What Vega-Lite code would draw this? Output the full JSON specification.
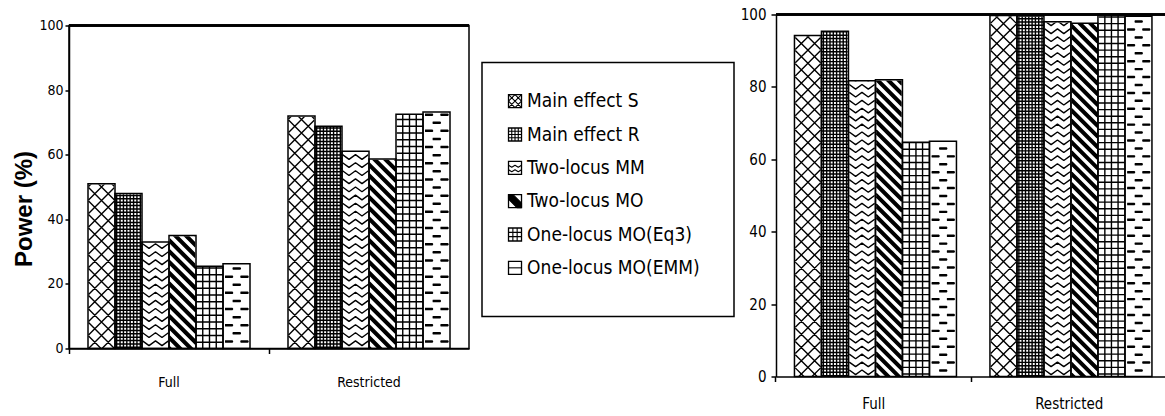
{
  "$schema": "https://vega.github.io/schema/vega-lite/v6.json",
  "background": "white",
  "padding": {"left": 12, "top": 7.5, "right": 0, "bottom": 0},
  "config": {
    "view": {"stroke": "black", "strokeWidth": 1.5},
    "axis": {
      "domainColor": "black", "domainWidth": 1.5,
      "tickColor": "black", "tickWidth": 1.5,
      "labelColor": "black", "labelFont": "DejaVu Sans Condensed, Liberation Sans Narrow, sans-serif",
      "titleColor": "black", "grid": false, "zindex": 1
    }
  },
  "datasets": {
    "left": [
      {"group": "Full", "series": "Main effect S", "power": 51},
      {"group": "Full", "series": "Main effect R", "power": 48},
      {"group": "Full", "series": "Two-locus MM", "power": 33},
      {"group": "Full", "series": "Two-locus MO", "power": 35},
      {"group": "Full", "series": "One-locus MO(Eq3)", "power": 25.5},
      {"group": "Full", "series": "One-locus MO(EMM)", "power": 26.2},
      {"group": "Restricted", "series": "Main effect S", "power": 72},
      {"group": "Restricted", "series": "Main effect R", "power": 68.8},
      {"group": "Restricted", "series": "Two-locus MM", "power": 61.1},
      {"group": "Restricted", "series": "Two-locus MO", "power": 58.7},
      {"group": "Restricted", "series": "One-locus MO(Eq3)", "power": 72.5},
      {"group": "Restricted", "series": "One-locus MO(EMM)", "power": 73.2}
    ],
    "right": [
      {"group": "Full", "series": "Main effect S", "power": 94.2},
      {"group": "Full", "series": "Main effect R", "power": 95.4},
      {"group": "Full", "series": "Two-locus MM", "power": 81.7},
      {"group": "Full", "series": "Two-locus MO", "power": 82},
      {"group": "Full", "series": "One-locus MO(Eq3)", "power": 64.7},
      {"group": "Full", "series": "One-locus MO(EMM)", "power": 65},
      {"group": "Restricted", "series": "Main effect S", "power": 99.7},
      {"group": "Restricted", "series": "Main effect R", "power": 99.6},
      {"group": "Restricted", "series": "Two-locus MM", "power": 98},
      {"group": "Restricted", "series": "Two-locus MO", "power": 97.6},
      {"group": "Restricted", "series": "One-locus MO(Eq3)", "power": 100},
      {"group": "Restricted", "series": "One-locus MO(EMM)", "power": 99.5}
    ],
    "legend": [
      {"series": "Main effect S"},
      {"series": "Main effect R"},
      {"series": "Two-locus MM"},
      {"series": "Two-locus MO"},
      {"series": "One-locus MO(Eq3)"},
      {"series": "One-locus MO(EMM)"}
    ]
  },
  "resolve": {"scale": {"shape": "shared", "fill": "shared"}},
  "spacing": 5,
  "hconcat": [
    {
      "spacing": 10,
      "hconcat": [
        {
          "spacing": 0,
          "vconcat": [
            {"width": 1, "height": 2.5, "view": {"stroke": null}, "data": {"values": []}, "mark": "text"},
            {
              "width": 400,
              "height": 323,
              "data": {"name": "left"},
              "layer": [
                {
                  "encoding": {
                    "x": {"field": "group", "type": "nominal", "sort": ["Full", "Restricted"],
                          "scale": {"paddingInner": 0.19, "paddingOuter": 0.095},
                          "axis": {"title": null, "labelAngle": 0, "labelFontSize": 14, "labelPadding": 22, "tickSize": 5, "bandPosition": -0.117}},
                    "xOffset": {"field": "series", "type": "nominal",
                                "sort": ["Main effect S", "Main effect R", "Two-locus MM", "Two-locus MO", "One-locus MO(Eq3)", "One-locus MO(EMM)"]}
                  },
                  "layer": [
                    {
                      "mark": {"type": "point", "filled": true, "clip": true, "size": 729, "stroke": "black", "strokeWidth": 1.4, "strokeJoin": "bevel", "strokeCap": "butt", "opacity": 1},
                      "encoding": {
                        "y": {"datum": 50, "type": "quantitative", "scale": {"domain": [0, 100], "nice": false},
                              "axis": {"title": "Power (%)", "values": [0, 20, 40, 60, 80, 100], "tickSize": 4, "labelPadding": 2, "labelFontSize": 14,
                                       "titleFont": "Liberation Sans", "titleFontSize": 24, "titleFontWeight": "bold", "titleY": 183, "titlePadding": 2}},
                        "shape": {"field": "series", "type": "nominal", "legend": null,
                          "scale": {
                            "domain": ["Main effect S", "Main effect R", "Two-locus MM", "Two-locus MO", "One-locus MO(Eq3)", "One-locus MO(EMM)"],
                            "range": [
                              "M-.96 -15.96l1.92 1.92m-1.92 -.92l1.92 1.92m-1.92 -.92l1.92 1.92m-1.92 -.92l1.92 1.92m-1.92 -.92l1.92 1.92m-1.92 -.92l1.92 1.92m-1.92 -.92l1.92 1.92m-1.92 -.92l1.92 1.92m-1.92 -.92l1.92 1.92m-1.92 -.92l1.92 1.92m-1.92 -.92l1.92 1.92m-1.92 -.92l1.92 1.92m-1.92 -.92l1.92 1.92m-1.92 -.92l1.92 1.92m-1.92 -.92l1.92 1.92m-1.92 -.92l1.92 1.92m-1.92 -.92l1.92 1.92m-1.92 -.92l1.92 1.92m-1.92 -.92l1.92 1.92m-1.92 -.92l1.92 1.92m-1.92 -.92l1.92 1.92m-1.92 -.92l1.92 1.92m-1.92 -.92l1.92 1.92m-1.92 -.92l1.92 1.92m-1.92 -.92l1.92 1.92m-1.92 -.92l1.92 1.92m-1.92 -.92l1.92 1.92m-1.92 -.92l1.92 1.92m-1.92 -.92l1.92 1.92m-1.92 -.92l1.92 1.92m-1.92 -.92l1.92 1.92m-1.92 -.92M-.96 -14.04l1.92 -1.92m-1.92 2.92l1.92 -1.92m-1.92 2.92l1.92 -1.92m-1.92 2.92l1.92 -1.92m-1.92 2.92l1.92 -1.92m-1.92 2.92l1.92 -1.92m-1.92 2.92l1.92 -1.92m-1.92 2.92l1.92 -1.92m-1.92 2.92l1.92 -1.92m-1.92 2.92l1.92 -1.92m-1.92 2.92l1.92 -1.92m-1.92 2.92l1.92 -1.92m-1.92 2.92l1.92 -1.92m-1.92 2.92l1.92 -1.92m-1.92 2.92l1.92 -1.92m-1.92 2.92l1.92 -1.92m-1.92 2.92l1.92 -1.92m-1.92 2.92l1.92 -1.92m-1.92 2.92l1.92 -1.92m-1.92 2.92l1.92 -1.92m-1.92 2.92l1.92 -1.92m-1.92 2.92l1.92 -1.92m-1.92 2.92l1.92 -1.92m-1.92 2.92l1.92 -1.92m-1.92 2.92l1.92 -1.92m-1.92 2.92l1.92 -1.92m-1.92 2.92l1.92 -1.92m-1.92 2.92l1.92 -1.92m-1.92 2.92l1.92 -1.92m-1.92 2.92l1.92 -1.92m-1.92 2.92l1.92 -1.92m-1.92 2.92",
                              "M-.875 -14V14M-.625 -14V14M-.375 -14V14M-.125 -14V14M.125 -14V14M.375 -14V14M.625 -14V14M.875 -14V14M-1 -13.875h2m-2 .25h2m-2 .25h2m-2 .25h2m-2 .25h2m-2 .25h2m-2 .25h2m-2 .25h2m-2 .25h2m-2 .25h2m-2 .25h2m-2 .25h2m-2 .25h2m-2 .25h2m-2 .25h2m-2 .25h2m-2 .25h2m-2 .25h2m-2 .25h2m-2 .25h2m-2 .25h2m-2 .25h2m-2 .25h2m-2 .25h2m-2 .25h2m-2 .25h2m-2 .25h2m-2 .25h2m-2 .25h2m-2 .25h2m-2 .25h2m-2 .25h2m-2 .25h2m-2 .25h2m-2 .25h2m-2 .25h2m-2 .25h2m-2 .25h2m-2 .25h2m-2 .25h2m-2 .25h2m-2 .25h2m-2 .25h2m-2 .25h2m-2 .25h2m-2 .25h2m-2 .25h2m-2 .25h2m-2 .25h2m-2 .25h2m-2 .25h2m-2 .25h2m-2 .25h2m-2 .25h2m-2 .25h2m-2 .25h2m-2 .25h2m-2 .25h2m-2 .25h2m-2 .25h2m-2 .25h2m-2 .25h2m-2 .25h2m-2 .25h2m-2 .25h2m-2 .25h2m-2 .25h2m-2 .25h2m-2 .25h2m-2 .25h2m-2 .25h2m-2 .25h2m-2 .25h2m-2 .25h2m-2 .25h2m-2 .25h2m-2 .25h2m-2 .25h2m-2 .25h2m-2 .25h2m-2 .25h2m-2 .25h2m-2 .25h2m-2 .25h2m-2 .25h2m-2 .25h2m-2 .25h2m-2 .25h2m-2 .25h2m-2 .25h2m-2 .25h2m-2 .25h2m-2 .25h2m-2 .25h2m-2 .25h2m-2 .25h2m-2 .25h2m-2 .25h2m-2 .25h2m-2 .25h2m-2 .25h2m-2 .25h2m-2 .25h2m-2 .25h2m-2 .25h2m-2 .25h2m-2 .25h2m-2 .25h2m-2 .25h2m-2 .25h2m-2 .25h2m-2 .25h2m-2 .25h2m-2 .25h2m-2 .25h2m-2 .25h2m-2 .25h2m-2 .25h2m-2 .25h2m-2 .25h2m-2 .25h2m-2 .25h2m-2 .25h2m-2 .25h2m-2 .25h2m-2 .25h2m-2 .25h2m-2 .25h2m-2 .25h2m-2 .25h2m-2 .25h2m-2 .25h2m-2 .25h2m-2 .25",
                              "M-.96 -13.8l.48 .35 .48 -.35 .48 .35 .48 -.35m-1.92 .6l.48 .35 .48 -.35 .48 .35 .48 -.35m-1.92 .6l.48 .35 .48 -.35 .48 .35 .48 -.35m-1.92 .6l.48 .35 .48 -.35 .48 .35 .48 -.35m-1.92 .6l.48 .35 .48 -.35 .48 .35 .48 -.35m-1.92 .6l.48 .35 .48 -.35 .48 .35 .48 -.35m-1.92 .6l.48 .35 .48 -.35 .48 .35 .48 -.35m-1.92 .6l.48 .35 .48 -.35 .48 .35 .48 -.35m-1.92 .6l.48 .35 .48 -.35 .48 .35 .48 -.35m-1.92 .6l.48 .35 .48 -.35 .48 .35 .48 -.35m-1.92 .6l.48 .35 .48 -.35 .48 .35 .48 -.35m-1.92 .6l.48 .35 .48 -.35 .48 .35 .48 -.35m-1.92 .6l.48 .35 .48 -.35 .48 .35 .48 -.35m-1.92 .6l.48 .35 .48 -.35 .48 .35 .48 -.35m-1.92 .6l.48 .35 .48 -.35 .48 .35 .48 -.35m-1.92 .6l.48 .35 .48 -.35 .48 .35 .48 -.35m-1.92 .6l.48 .35 .48 -.35 .48 .35 .48 -.35m-1.92 .6l.48 .35 .48 -.35 .48 .35 .48 -.35m-1.92 .6l.48 .35 .48 -.35 .48 .35 .48 -.35m-1.92 .6l.48 .35 .48 -.35 .48 .35 .48 -.35m-1.92 .6l.48 .35 .48 -.35 .48 .35 .48 -.35m-1.92 .6l.48 .35 .48 -.35 .48 .35 .48 -.35m-1.92 .6l.48 .35 .48 -.35 .48 .35 .48 -.35m-1.92 .6l.48 .35 .48 -.35 .48 .35 .48 -.35m-1.92 .6l.48 .35 .48 -.35 .48 .35 .48 -.35m-1.92 .6l.48 .35 .48 -.35 .48 .35 .48 -.35m-1.92 .6l.48 .35 .48 -.35 .48 .35 .48 -.35m-1.92 .6l.48 .35 .48 -.35 .48 .35 .48 -.35m-1.92 .6l.48 .35 .48 -.35 .48 .35 .48 -.35m-1.92 .6l.48 .35 .48 -.35 .48 .35 .48 -.35m-1.92 .6l.48 .35 .48 -.35 .48 .35 .48 -.35m-1.92 .6l.48 .35 .48 -.35 .48 .35 .48 -.35m-1.92 .6l.48 .35 .48 -.35 .48 .35 .48 -.35m-1.92 .6l.48 .35 .48 -.35 .48 .35 .48 -.35m-1.92 .6l.48 .35 .48 -.35 .48 .35 .48 -.35m-1.92 .6l.48 .35 .48 -.35 .48 .35 .48 -.35m-1.92 .6l.48 .35 .48 -.35 .48 .35 .48 -.35m-1.92 .6l.48 .35 .48 -.35 .48 .35 .48 -.35m-1.92 .6l.48 .35 .48 -.35 .48 .35 .48 -.35m-1.92 .6l.48 .35 .48 -.35 .48 .35 .48 -.35m-1.92 .6l.48 .35 .48 -.35 .48 .35 .48 -.35m-1.92 .6l.48 .35 .48 -.35 .48 .35 .48 -.35m-1.92 .6l.48 .35 .48 -.35 .48 .35 .48 -.35m-1.92 .6l.48 .35 .48 -.35 .48 .35 .48 -.35m-1.92 .6l.48 .35 .48 -.35 .48 .35 .48 -.35m-1.92 .6l.48 .35 .48 -.35 .48 .35 .48 -.35m-1.92 .6l.48 .35 .48 -.35 .48 .35 .48 -.35m-1.92 .6",
                              "M-.96 -16.16l1.92 1.92v.28l-1.92 -1.92m0 .52l1.92 1.92v.28l-1.92 -1.92m0 .52l1.92 1.92v.28l-1.92 -1.92m0 .52l1.92 1.92v.28l-1.92 -1.92m0 .52l1.92 1.92v.28l-1.92 -1.92m0 .52l1.92 1.92v.28l-1.92 -1.92m0 .52l1.92 1.92v.28l-1.92 -1.92m0 .52l1.92 1.92v.28l-1.92 -1.92m0 .52l1.92 1.92v.28l-1.92 -1.92m0 .52l1.92 1.92v.28l-1.92 -1.92m0 .52l1.92 1.92v.28l-1.92 -1.92m0 .52l1.92 1.92v.28l-1.92 -1.92m0 .52l1.92 1.92v.28l-1.92 -1.92m0 .52l1.92 1.92v.28l-1.92 -1.92m0 .52l1.92 1.92v.28l-1.92 -1.92m0 .52l1.92 1.92v.28l-1.92 -1.92m0 .52l1.92 1.92v.28l-1.92 -1.92m0 .52l1.92 1.92v.28l-1.92 -1.92m0 .52l1.92 1.92v.28l-1.92 -1.92m0 .52l1.92 1.92v.28l-1.92 -1.92m0 .52l1.92 1.92v.28l-1.92 -1.92m0 .52l1.92 1.92v.28l-1.92 -1.92m0 .52l1.92 1.92v.28l-1.92 -1.92m0 .52l1.92 1.92v.28l-1.92 -1.92m0 .52l1.92 1.92v.28l-1.92 -1.92m0 .52l1.92 1.92v.28l-1.92 -1.92m0 .52l1.92 1.92v.28l-1.92 -1.92m0 .52l1.92 1.92v.28l-1.92 -1.92m0 .52l1.92 1.92v.28l-1.92 -1.92m0 .52l1.92 1.92v.28l-1.92 -1.92m0 .52l1.92 1.92v.28l-1.92 -1.92m0 .52l1.92 1.92v.28l-1.92 -1.92m0 .52l1.92 1.92v.28l-1.92 -1.92m0 .52l1.92 1.92v.28l-1.92 -1.92m0 .52l1.92 1.92v.28l-1.92 -1.92m0 .52l1.92 1.92v.28l-1.92 -1.92m0 .52l1.92 1.92v.28l-1.92 -1.92m0 .52l1.92 1.92v.28l-1.92 -1.92m0 .52l1.92 1.92v.28l-1.92 -1.92m0 .52",
                              "M-.5 -14V14M0 -14V14M.5 -14V14M-1 -13.5h2m-2 .5h2m-2 .5h2m-2 .5h2m-2 .5h2m-2 .5h2m-2 .5h2m-2 .5h2m-2 .5h2m-2 .5h2m-2 .5h2m-2 .5h2m-2 .5h2m-2 .5h2m-2 .5h2m-2 .5h2m-2 .5h2m-2 .5h2m-2 .5h2m-2 .5h2m-2 .5h2m-2 .5h2m-2 .5h2m-2 .5h2m-2 .5h2m-2 .5h2m-2 .5h2m-2 .5h2m-2 .5h2m-2 .5h2m-2 .5h2m-2 .5h2m-2 .5h2m-2 .5h2m-2 .5h2m-2 .5h2m-2 .5h2m-2 .5h2m-2 .5h2m-2 .5h2m-2 .5h2m-2 .5h2m-2 .5h2m-2 .5h2m-2 .5h2m-2 .5h2m-2 .5h2m-2 .5h2m-2 .5h2m-2 .5h2m-2 .5h2m-2 .5h2m-2 .5h2m-2 .5h2m-2 .5h2m-2 .5h2m-2 .5h2m-2 .5",
                              "M-.85 -13.8h.55v.08h-.55m1.15 -.08h.55v.08h-.55m-.58 .52h.56v.08h-.56m-.57 .52h.55v.08h-.55m1.15 -.08h.55v.08h-.55m-.58 .52h.56v.08h-.56m-.57 .52h.55v.08h-.55m1.15 -.08h.55v.08h-.55m-.58 .52h.56v.08h-.56m-.57 .52h.55v.08h-.55m1.15 -.08h.55v.08h-.55m-.58 .52h.56v.08h-.56m-.57 .52h.55v.08h-.55m1.15 -.08h.55v.08h-.55m-.58 .52h.56v.08h-.56m-.57 .52h.55v.08h-.55m1.15 -.08h.55v.08h-.55m-.58 .52h.56v.08h-.56m-.57 .52h.55v.08h-.55m1.15 -.08h.55v.08h-.55m-.58 .52h.56v.08h-.56m-.57 .52h.55v.08h-.55m1.15 -.08h.55v.08h-.55m-.58 .52h.56v.08h-.56m-.57 .52h.55v.08h-.55m1.15 -.08h.55v.08h-.55m-.58 .52h.56v.08h-.56m-.57 .52h.55v.08h-.55m1.15 -.08h.55v.08h-.55m-.58 .52h.56v.08h-.56m-.57 .52h.55v.08h-.55m1.15 -.08h.55v.08h-.55m-.58 .52h.56v.08h-.56m-.57 .52h.55v.08h-.55m1.15 -.08h.55v.08h-.55m-.58 .52h.56v.08h-.56m-.57 .52h.55v.08h-.55m1.15 -.08h.55v.08h-.55m-.58 .52h.56v.08h-.56m-.57 .52h.55v.08h-.55m1.15 -.08h.55v.08h-.55m-.58 .52h.56v.08h-.56m-.57 .52h.55v.08h-.55m1.15 -.08h.55v.08h-.55m-.58 .52h.56v.08h-.56m-.57 .52h.55v.08h-.55m1.15 -.08h.55v.08h-.55m-.58 .52h.56v.08h-.56m-.57 .52h.55v.08h-.55m1.15 -.08h.55v.08h-.55m-.58 .52h.56v.08h-.56m-.57 .52h.55v.08h-.55m1.15 -.08h.55v.08h-.55m-.58 .52h.56v.08h-.56m-.57 .52h.55v.08h-.55m1.15 -.08h.55v.08h-.55m-.58 .52h.56v.08h-.56m-.57 .52h.55v.08h-.55m1.15 -.08h.55v.08h-.55m-.58 .52h.56v.08h-.56m-.57 .52h.55v.08h-.55m1.15 -.08h.55v.08h-.55m-.58 .52h.56v.08h-.56m-.57 .52h.55v.08h-.55m1.15 -.08h.55v.08h-.55m-.58 .52h.56v.08h-.56m-.57 .52h.55v.08h-.55m1.15 -.08h.55v.08h-.55m-.58 .52h.56v.08h-.56m-.57 .52"
                            ]
                          }
                        },
                        "fill": {"field": "series", "type": "nominal", "legend": null,
                          "scale": {
                            "domain": ["Main effect S", "Main effect R", "Two-locus MM", "Two-locus MO", "One-locus MO(Eq3)", "One-locus MO(EMM)"],
                            "range": ["transparent", "transparent", "transparent", "black", "transparent", "black"]
                          }
                        }
                      }
                    },
                    {
                      "mark": {"type": "bar", "fill": "white", "stroke": "white", "strokeWidth": 1.5},
                      "encoding": {
                        "y": {"field": "power", "type": "quantitative", "scale": {"domain": [0, 100], "nice": false},
                              "axis": {"title": "Power (%)", "values": [0, 20, 40, 60, 80, 100], "tickSize": 4, "labelPadding": 2, "labelFontSize": 14,
                                       "titleFont": "Liberation Sans", "titleFontSize": 24, "titleFontWeight": "bold", "titleY": 183, "titlePadding": 2}},
                        "y2": {"datum": 100}
                      }
                    },
                    {
                      "mark": {"type": "bar", "fill": "transparent", "stroke": "black", "strokeWidth": 1.5},
                      "encoding": {
                        "y": {"field": "power", "type": "quantitative", "scale": {"domain": [0, 100], "nice": false},
                              "axis": {"title": "Power (%)", "values": [0, 20, 40, 60, 80, 100], "tickSize": 4, "labelPadding": 2, "labelFontSize": 14,
                                       "titleFont": "Liberation Sans", "titleFontSize": 24, "titleFontWeight": "bold", "titleY": 183, "titlePadding": 2}}
                      }
                    }
                  ]
                },
                {
                  "mark": {"type": "rule", "color": "black", "strokeWidth": 1.5},
                  "encoding": {
                    "y": {"datum": 100, "type": "quantitative", "scale": {"domain": [0, 100], "nice": false},
                          "axis": {"title": "Power (%)", "values": [0, 20, 40, 60, 80, 100], "tickSize": 4, "labelPadding": 2, "labelFontSize": 14,
                                   "titleFont": "Liberation Sans", "titleFontSize": 24, "titleFontWeight": "bold", "titleY": 183, "titlePadding": 2}}
                  }
                }
              ]
            }
          ]
        },
        {
          "spacing": 0,
          "vconcat": [
            {"width": 1, "height": 47, "view": {"stroke": null}, "data": {"values": []}, "mark": "text"},
            {
              "width": 252,
              "height": 254,
              "data": {"name": "legend"},
              "encoding": {
                "y": {"field": "series", "type": "nominal", "sort": null, "scale": {"type": "point", "range": [22, 222]}, "axis": null}
              },
              "layer": [
                {
                  "mark": {"type": "point", "filled": true, "size": 169, "stroke": "black", "strokeWidth": 1.1, "strokeJoin": "bevel", "opacity": 1},
                  "encoding": {
                    "x": {"datum": 0.131, "type": "quantitative", "scale": {"domain": [0, 1]}, "axis": null},
                    "shape": {
                      "condition": [
                        {"test": "datum.series === 'Main effect S'", "value": "M-1 -1L1 1M-1 1L1 -1M-1 0L0 -1L1 0L0 1Z"},
                        {"test": "datum.series === 'Main effect R'", "value": "M-.5 -1V1M0 -1V1M.5 -1V1M-1 -.5H1M-1 0H1M-1 .5H1"},
                        {"test": "datum.series === 'Two-locus MM'", "value": "M-1 -.4l.5 .3 .5 -.3 .5 .3 .5 -.3M-1 .3l.5 .3 .5 -.3 .5 .3 .5 -.3"},
                        {"test": "datum.series === 'Two-locus MO'", "value": "M-1 -1h.7l1.3 1.3v.7h-.7l-1.3 -1.3z"},
                        {"test": "datum.series === 'One-locus MO(Eq3)'", "value": "M-.33 -1V1M.33 -1V1M-1 -.33H1M-1 .33H1"}
                      ],
                      "value": "M-1 0H1"
                    },
                    "fill": {"field": "series", "type": "nominal", "legend": null}
                  }
                },
                {
                  "mark": {"type": "point", "shape": "square", "size": 169, "stroke": "black", "strokeWidth": 1.3, "fill": "transparent", "opacity": 1},
                  "encoding": {"x": {"datum": 0.131, "type": "quantitative", "axis": null}}
                },
                {
                  "mark": {"type": "text", "align": "left", "baseline": "middle", "fontSize": 19, "color": "black",
                           "font": "DejaVu Sans Condensed, Liberation Sans Narrow, sans-serif"},
                  "encoding": {
                    "x": {"datum": 0.179, "type": "quantitative", "axis": null},
                    "text": {"field": "series"}
                  }
                }
              ]
            }
          ]
        }
      ]
    },
    {
      "width": 391,
      "height": 362,
      "view": {"stroke": null},
      "data": {"name": "right"},
      "layer": [
        {
          "encoding": {
            "x": {"field": "group", "type": "nominal", "sort": ["Full", "Restricted"],
                  "scale": {"paddingInner": 0.1888, "paddingOuter": 0.0944},
                  "axis": {"title": null, "labelAngle": 0, "labelFontSize": 15, "labelPadding": 15, "tickSize": 5, "bandPosition": -0.117}},
            "xOffset": {"field": "series", "type": "nominal",
                        "sort": ["Main effect S", "Main effect R", "Two-locus MM", "Two-locus MO", "One-locus MO(Eq3)", "One-locus MO(EMM)"]}
          },
          "layer": [
            {
              "mark": {"type": "point", "filled": true, "clip": true, "size": 699, "stroke": "black", "strokeWidth": 1.4, "strokeJoin": "bevel", "strokeCap": "butt", "opacity": 1},
              "encoding": {
                "y": {"datum": 50, "type": "quantitative", "scale": {"domain": [0, 100], "nice": false},
                      "axis": {"title": null, "values": [0, 20, 40, 60, 80, 100], "tickSize": 5, "labelPadding": 5, "labelFontSize": 15}},
                "shape": {"field": "series", "type": "nominal", "legend": null},
                "fill": {"field": "series", "type": "nominal", "legend": null}
              }
            },
            {
              "mark": {"type": "bar", "fill": "white", "stroke": "white", "strokeWidth": 1.5},
              "encoding": {
                "y": {"field": "power", "type": "quantitative", "scale": {"domain": [0, 100], "nice": false},
                      "axis": {"title": null, "values": [0, 20, 40, 60, 80, 100], "tickSize": 5, "labelPadding": 5, "labelFontSize": 15}},
                "y2": {"datum": 100}
              }
            },
            {
              "mark": {"type": "bar", "fill": "transparent", "stroke": "black", "strokeWidth": 1.5},
              "encoding": {
                "y": {"field": "power", "type": "quantitative", "scale": {"domain": [0, 100], "nice": false},
                      "axis": {"title": null, "values": [0, 20, 40, 60, 80, 100], "tickSize": 5, "labelPadding": 5, "labelFontSize": 15}}
              }
            }
          ]
        },
        {
          "mark": {"type": "rule", "color": "black", "strokeWidth": 1.5},
          "encoding": {
            "y": {"datum": 100, "type": "quantitative", "scale": {"domain": [0, 100], "nice": false},
                  "axis": {"title": null, "values": [0, 20, 40, 60, 80, 100], "tickSize": 5, "labelPadding": 5, "labelFontSize": 15}}
          }
        }
      ]
    }
  ]
}
